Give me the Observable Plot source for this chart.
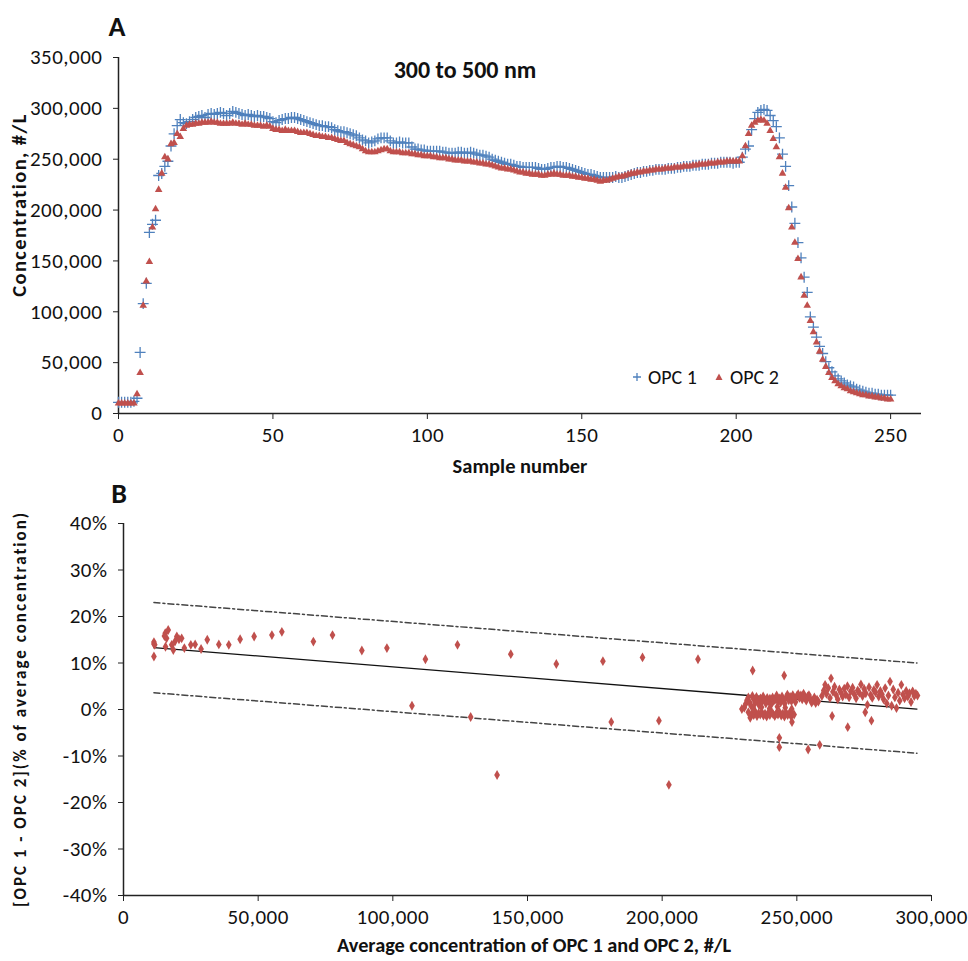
<!DOCTYPE html>
<html><head><meta charset="utf-8">
<script src="https://cdn.jsdelivr.net/npm/d3@7"></script>
<script src="https://cdn.jsdelivr.net/npm/@observablehq/plot@0.6"></script>
<style>
body{margin:0;background:#fff;}
#wrap{position:relative;width:968px;height:961px;font-family:Carlito,Calibri,Lato,sans-serif;color:#111;overflow:hidden;}
.t{position:absolute;white-space:nowrap;font-weight:bold;line-height:1;}
.c{transform:translate(-50%,-50%);}
.r{transform:translate(-50%,-50%) rotate(-90deg);}
</style></head><body><div id="wrap"></div>
<script>
// ---------- Panel A data (concentration, thousands #/L, one value per sample 0..250) ----------
const opc1_k = [
11,11,11,11,11,12,15,60,108,128,
178,186,190,234,236,243,248,263,275,283,
289,286,285,287,289,291,292,293,291,294,
295,294,295,296,295,293,295,297,296,295,
294,293,294,293,292,293,292,292,291,290,
287,286,288,289,290,290,291,291,290,289,
288,287,286,285,284,283,283,282,282,281,
279,278,277,277,276,275,274,273,271,269,
268,266,267,268,270,271,271,271,268,266,
266,267,266,266,266,262,260,260,259,259,
258,258,258,258,258,257,257,256,256,256,
257,257,256,256,257,256,255,254,254,253,
252,250,249,248,247,246,245,245,244,243,
243,242,242,242,242,242,241,240,240,241,
242,242,243,243,242,242,241,240,239,238,
237,236,235,235,234,233,232,232,232,232,
232,233,232,232,233,234,235,236,237,237,
238,238,239,239,240,240,240,240,241,241,
241,242,242,243,243,243,244,244,244,245,
245,245,246,246,246,247,247,247,247,246,
247,247,252,260,263,279,290,296,298,299,
298,293,288,282,271,255,243,224,203,187,
168,153,134,119,95,85,75,66,59,51,
45,41,37,34,32,30,28,27,26,24,
23,22,21,20,20,19,19,18,18,18,18];
const opc2_k = [
10,10,10,10,10,10,19,40,106,130,
149,183,201,220,236,252,250,265,266,275,
272,280,283,284,284,285,285,286,286,286,
287,286,286,285,285,285,285,286,285,285,
284,285,284,284,283,283,283,282,283,282,
280,279,279,278,279,278,278,278,277,276,
276,276,275,274,273,273,272,272,271,271,
270,269,268,268,266,265,264,263,262,260,
258,257,257,257,258,259,260,260,258,257,
257,257,256,256,256,255,255,254,254,253,
253,253,252,252,251,251,251,250,250,249,
249,249,248,248,248,247,247,246,246,245,
245,244,243,242,241,241,240,240,239,238,
237,237,236,236,235,235,235,234,234,235,
235,236,235,235,234,234,234,233,233,232,
232,231,231,230,230,229,228,229,229,230,
231,232,233,233,234,235,236,236,237,237,
238,238,239,239,240,240,240,241,241,241,
242,242,242,243,243,243,244,244,245,245,
245,246,246,246,247,247,247,248,248,248,
248,248,253,263,275,283,286,288,289,288,
285,278,270,262,252,236,222,202,183,168,
152,134,116,106,91,80,70,61,53,46,
40,35,32,29,27,25,24,22,21,20,
19,18,18,17,17,16,16,15,15,14,14];
const seriesNames = ["OPC 1", "OPC 2"];
const xTicksA = [0, 50, 100, 150, 200, 250];
const yTicksA = [0, 50000, 100000, 150000, 200000, 250000, 300000, 350000];

// ---------- Panel B data: [average concentration (thousands #/L), difference (%)] ----------
const diffSparse = [
[11.3,14.5],[11.3,14.1],[11.3,11.4],[11.6,13.9],[15.2,15.8],[15.5,16.4],[16.6,17.1],[16.0,15.3],
[15.6,13.5],[17.9,13.9],[18.5,12.8],[19.1,14.6],[19.8,15.7],[21.6,15.3],[20.6,15.1],[22.6,13.2],
[25.0,13.9],[26.6,14.0],[28.8,13.0],[31.1,15.0],[35.4,14.0],[39.1,13.9],[43.3,15.1],[48.5,15.7],
[55.1,16.0],[58.8,16.7],[70.5,14.6],[77.6,16.0],[88.5,12.7],[97.8,13.2],[107.1,0.8],[112.1,10.8],
[124.0,13.9],[128.9,-1.6],[138.7,-14.1],[143.8,11.9],[160.7,9.8],[178.0,10.4],[181.1,-2.7],
[192.7,11.2],[198.8,-2.4],[202.5,-16.2],[213.3,10.8]];
const diffCluster = [
[229.6,0.1],[230.5,0.4],[231,1.2],[231.5,2.0],[232,2.6],[232.5,1.5],[233,0.8],[233.5,2.9],[234,2.2],
[234.5,1.4],[235,2.7],[235.5,1.9],[236,0.9],[236.5,2.4],[237,1.6],[237.5,2.8],[238,2.1],[238.5,1.3],
[239,2.5],[239.5,1.8],[240,2.3],[240.5,1.1],[241,2.6],[241.5,1.9],[242,2.2],[242.5,3.0],[243,1.7],
[243.5,2.4],[244,1.5],[244.5,2.8],[245,2.1],[245.5,1.3],[246,2.6],[246.5,3.2],[247,2.0],[247.5,2.7],
[248,1.8],[248.5,3.1],[249,2.4],[249.5,1.6],[250,2.9],[250.5,3.3],[251,2.5],[251.5,3.0],[252,2.2],
[252.5,3.4],[253,2.6],[253.5,1.9],[254,2.8],[254.5,3.1],[255,2.3],[255.5,1.5],[256,1.9],[256.5,2.6],
[257,1.4],[257.5,2.1],[258,1.7],
[232,-0.6],[232.7,-1.8],[233.3,-0.9],[234,-1.2],[234.6,-0.5],[235.2,-1.4],[235.8,-0.8],[236.4,-1.1],
[237,-0.6],[237.6,-1.3],[238.2,-0.9],[238.8,-1.5],[239.4,-0.7],[240,-1.2],[240.6,-0.5],[241.2,-1.0],
[241.8,-1.4],[242.4,-0.8],[243,-1.1],[243.6,-0.6],[244.2,-1.3],[244.8,-0.9],[245.4,-1.5],[246,-0.7],
[246.6,-1.2],[247.2,-0.8],[247.8,-1.4],[248.4,-0.9],[249,-1.1],[248.2,-2.7],
[233.8,0.3],[236.9,0.5],[239.9,0.2],[242.8,0.6],[245.7,0.4],[248.1,0.1],
[259.3,2.9],[260,4.1],[260.5,5.3],[261,3.4],[261.7,4.6],[262.3,2.5],[262.7,6.7],[263.4,3.8],[264,4.9],
[264.6,3.1],[265.2,2.2],[265.8,4.3],[266.4,3.6],[267,2.8],[267.6,4.5],[268.2,3.2],[268.8,5.0],
[269.4,2.6],[270,3.9],[270.7,4.7],[271.3,3.3],[272,2.4],[272.6,4.1],[273.2,3.6],[273.8,5.4],
[274.4,2.9],[275,4.4],[275.6,3.5],[276.2,1.0],[276.8,4.8],[277.4,3.1],[278,2.5],[278.6,4.2],
[279.2,3.7],[279.8,5.3],[280.4,2.8],[281,4.0],[281.6,3.3],[282.2,2.2],[282.8,4.6],[283.4,1.3],
[284,3.0],[284.6,6.0],[285.2,0.8],[285.8,4.3],[286.4,2.6],[287,0.3],[287.6,3.6],[288.2,1.9],
[288.8,5.3],[289.4,3.2],[290,2.4],[290.6,4.0],[291.2,2.8],[291.8,3.5],[292.4,1.6],[293,3.9],
[293.6,2.9],[294.2,3.4],[294.8,3.0],
[263.1,-1.4],[268.9,-3.8],[275.4,-0.6],[277.7,-2.4],[243.5,-6.1],[243.5,-8.1],[254.2,-8.6],
[258.5,-7.6],[233.6,8.4],[245.3,7.3]];
const fitX = [11300, 294600];
const fitY = [13.3, 0.1];
const upperY = [23.0, 10.0];
const lowerY = [3.6, -9.4];
const xTicksB = [0, 50000, 100000, 150000, 200000, 250000, 300000];
const yTicksB = [-40, -30, -20, -10, 0, 10, 20, 30, 40];

// ---------- styling ----------
const blue = "#4F81BD", red = "#C0504D", axisCol = "#222";
const font = "Carlito, Calibri, Lato, sans-serif";
const wrap = document.getElementById("wrap");
const plotStyle = {fontSize: "21px", letterSpacing: "0.5px", fontFamily: font, color: "#111", background: "transparent"};

const samples = d3.range(opc1_k.length);
const plotA = Plot.plot({
  width: 968, height: 480,
  marginLeft: 118, marginRight: 47, marginTop: 57, marginBottom: 67,
  style: plotStyle,
  x: {domain: [0, 260]},
  y: {domain: [0, 350000]},
  marks: [
    Plot.axisY({ticks: yTicksA, tickSize: 5, tickPadding: 11, tickFormat: d3.format(","), label: null, stroke: axisCol}),
    Plot.axisX({ticks: xTicksA, tickSize: 6, tickPadding: 8, label: null, stroke: axisCol}),
    Plot.ruleX([0], {stroke: axisCol, strokeWidth: 1.5}),
    Plot.ruleY([0], {stroke: axisCol, strokeWidth: 1.5}),
    Plot.dot(samples, {x: i => i, y: i => opc1_k[i] * 1000, symbol: "plus", r: 3.6, stroke: blue, strokeWidth: 1.3}),
    Plot.dot(samples, {x: i => i, y: i => opc2_k[i] * 1000, symbol: "triangle", r: 2.8, fill: red, stroke: "none"})
  ]
});
plotA.style.position = "absolute"; plotA.style.left = "0px"; plotA.style.top = "0px";
wrap.appendChild(plotA);

const diffAll = diffSparse.concat(diffCluster);
const fitIdx = [0, 1];
const plotB = Plot.plot({
  width: 968, height: 481,
  marginLeft: 123, marginRight: 37, marginTop: 43, marginBottom: 66,
  style: plotStyle,
  x: {domain: [0, 300000]},
  y: {domain: [-40, 40]},
  marks: [
    Plot.axisY({ticks: yTicksB, tickSize: 5, tickPadding: 11, tickFormat: d => d + "%", label: null, stroke: axisCol}),
    Plot.axisX({ticks: xTicksB, tickSize: 6, tickPadding: 8, tickFormat: d3.format(","), label: null, stroke: axisCol}),
    Plot.ruleX([0], {stroke: axisCol, strokeWidth: 1.5}),
    Plot.ruleY([-40], {stroke: axisCol, strokeWidth: 1.5}),
    Plot.line(fitIdx, {x: i => fitX[i], y: i => upperY[i], stroke: "#444", strokeWidth: 1.5, strokeDasharray: "6,3,2,3"}),
    Plot.line(fitIdx, {x: i => fitX[i], y: i => lowerY[i], stroke: "#444", strokeWidth: 1.5, strokeDasharray: "6,3,2,3"}),
    Plot.line(fitIdx, {x: i => fitX[i], y: i => fitY[i], stroke: "#111", strokeWidth: 1.3}),
    Plot.dot(diffAll, {x: d => d[0] * 1000, y: d => d[1], symbol: "diamond", r: 3, fill: red, stroke: "none"})
  ]
});
plotB.style.position = "absolute"; plotB.style.left = "0px"; plotB.style.top = "480px";
wrap.appendChild(plotB);

// ---------- text overlays ----------
function txt(s, x, y, size, cls, extra) {
  const d = document.createElement("div");
  d.className = "t " + cls;
  d.textContent = s;
  d.style.left = x + "px"; d.style.top = y + "px"; d.style.fontSize = size + "px";
  if (extra) Object.assign(d.style, extra);
  wrap.appendChild(d);
  return d;
}
txt("A", 117, 27, 28, "c");
txt("300 to 500 nm", 465, 70, 24, "c");
txt("Concentration, #/L", 19, 205, 20.5, "r", {letterSpacing: "1.4px"});
txt("Sample number", 520, 466, 20.5, "c");
txt("B", 119, 494, 28, "c");
txt("[OPC 1 - OPC 2](% of average concentration)", 20, 709, 17, "r", {letterSpacing: "2px"});
txt("Average concentration of OPC 1 and OPC 2, #/L", 534, 945, 20.3, "c");

// legend
const leg = document.createElement("div");
leg.style.cssText = "position:absolute;left:631px;top:365px;font-size:20px;display:flex;align-items:center;white-space:nowrap;";
leg.innerHTML =
  `<svg width="12" height="12" style="margin-right:5px"><path d="M6,2V10M2,6H10" stroke="${blue}" stroke-width="1.3"/></svg><span>${seriesNames[0]}</span>` +
  `<svg width="12" height="12" style="margin-left:16px;margin-right:5px"><path d="M6,2.5L9.5,9H2.5Z" fill="${red}"/></svg><span>${seriesNames[1]}</span>`;
wrap.appendChild(leg);
</script></body></html>
